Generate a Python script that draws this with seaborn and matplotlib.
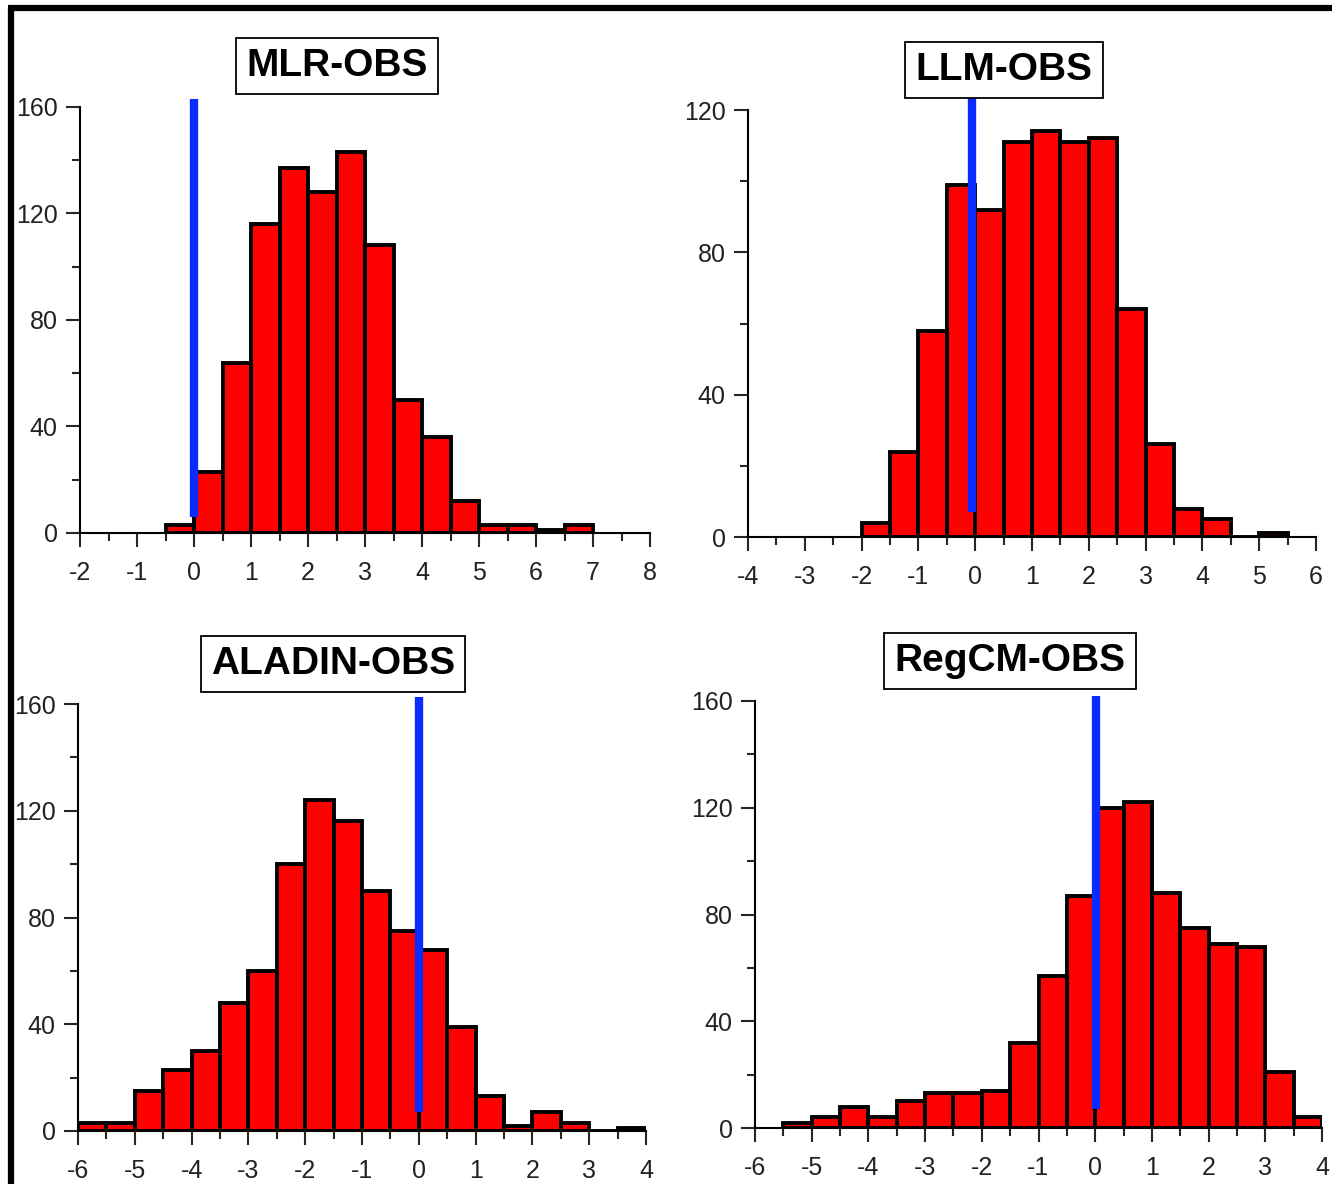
import numpy as np
import pandas as pd
import seaborn as sns
import matplotlib.pyplot as plt
from matplotlib.lines import Line2D
from matplotlib.ticker import MultipleLocator

# counts per 0.5-wide bin
bin_width = 0.5

mlr_start = -0.5
mlr_counts = [3, 23, 64, 116, 137, 128, 143, 108, 50, 36, 12, 3, 3, 1, 3]

llm_start = -2.0
llm_counts = [4, 24, 58, 99, 92, 111, 114, 111, 112, 64, 26, 8, 5, 0, 1]

aladin_start = -6.0
aladin_counts = [3, 3, 15, 23, 30, 48, 60, 100, 124, 116, 90, 75, 68, 39, 13,
                 2, 7, 3, 0, 1]

regcm_start = -5.5
regcm_counts = [2, 4, 8, 4, 10, 13, 13, 14, 32, 57, 87, 120, 122, 88, 75, 69,
                68, 21, 4]

# blue marker line: x position, y bottom, y top
mlr_mark = (0.0, 6, 163)
llm_mark = (-0.05, 7, 124)
aladin_mark = (0.0, 7, 162.5)
regcm_mark = (0.02, 7, 162)

titles = ['MLR-OBS', 'LLM-OBS', 'ALADIN-OBS', 'RegCM-OBS']

sns.set_style('ticks')
plt.rcParams['font.family'] = ['Liberation Sans Narrow', 'Liberation Sans', 'DejaVu Sans']

fig = plt.figure(figsize=(13.32, 11.84), dpi=100)
W, H = 1332, 1184


def px_axes(left, right, top, bottom):
    return fig.add_axes([left / W, 1 - bottom / H, (right - left) / W, (bottom - top) / H])


panels = [
    # data, start, mark, xlim, ymax, pixel box (left, right, top, bottom), title centre
    (mlr_counts, mlr_start, mlr_mark, (-2, 8), 160, (80, 650, 107, 533), (337, 66)),
    (llm_counts, llm_start, llm_mark, (-4, 6), 120, (748, 1316, 110, 537), (1004, 70)),
    (aladin_counts, aladin_start, aladin_mark, (-6, 4), 160, (78, 646, 704, 1131), (333, 664)),
    (regcm_counts, regcm_start, regcm_mark, (-6, 4), 160, (755, 1322, 701, 1128), (1010, 661)),
]

for (counts, start, mark, xlim, ymax, box, tpos), title in zip(panels, titles):
    ax = px_axes(*box)
    n = len(counts)
    df = pd.DataFrame({'x': start + bin_width * (np.arange(n) + 0.5), 'n': counts})
    sns.histplot(data=df, x='x', weights='n', binwidth=bin_width,
                 binrange=(start, start + bin_width * n), color='#ff0000', alpha=1,
                 edgecolor='black', linewidth=2.8, ax=ax, zorder=2)
    ax.plot([mark[0], mark[0]], [mark[1], mark[2]], color='#0a2bff', lw=6,
            solid_capstyle='butt', clip_on=False, zorder=5)
    ax.set_xlim(*xlim)
    ax.set_ylim(0, ymax)
    ax.xaxis.set_major_locator(MultipleLocator(1))
    ax.xaxis.set_minor_locator(MultipleLocator(0.5))
    ax.yaxis.set_major_locator(MultipleLocator(40))
    ax.yaxis.set_minor_locator(MultipleLocator(20))
    ax.set_xlabel('')
    ax.set_ylabel('')
    ax.grid(False)
    for side in ['top', 'right']:
        ax.spines[side].set_visible(False)
    for side in ['left', 'bottom']:
        ax.spines[side].set_linewidth(1.5)
        ax.spines[side].set_color('black')
        ax.spines[side].set_zorder(1)
    ax.tick_params(which='major', direction='out', length=10, width=1.5,
                   labelsize=18, labelcolor='#222222')
    ax.tick_params(which='minor', direction='out', length=6, width=1.5)
    ax.tick_params(axis='x', which='major', pad=10)
    ax.tick_params(axis='y', which='major', pad=6)
    ax.xaxis.set_major_formatter(lambda v, p: f'{v:.0f}')
    fig.text(tpos[0] / W, 1 - tpos[1] / H, title, ha='center', va='center',
             fontsize=28, fontweight='bold', color='black',
             family=['Liberation Sans', 'DejaVu Sans'],
             bbox=dict(boxstyle='square,pad=0.26', fc='white', ec='black', lw=1.3))

# outer frame lines (left and top)
fig.add_artist(Line2D([11 / W, 11 / W], [0, 1 - 8 / H], transform=fig.transFigure,
                      color='black', lw=4.5, solid_capstyle='butt'))
fig.add_artist(Line2D([8 / W, 1], [1 - 8 / H, 1 - 8 / H], transform=fig.transFigure,
                      color='black', lw=4.5, solid_capstyle='butt'))

fig.savefig('out.png', dpi=100)
